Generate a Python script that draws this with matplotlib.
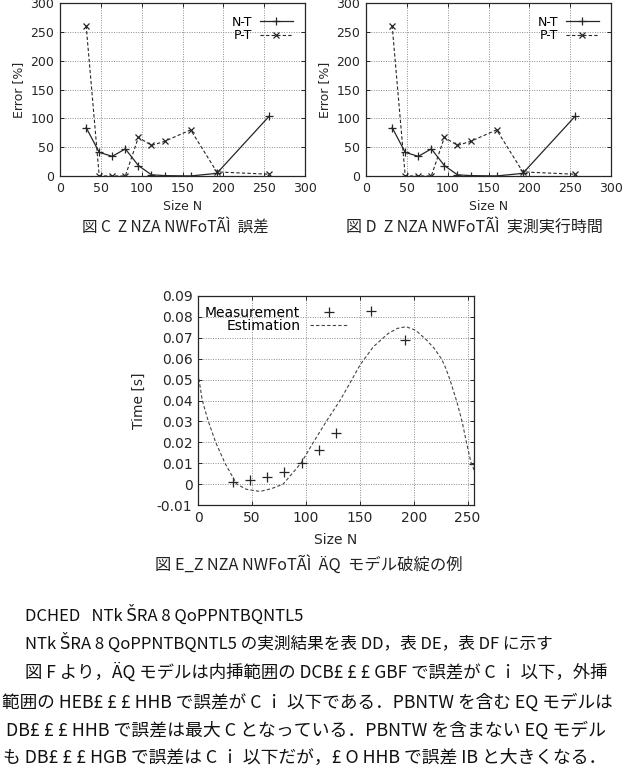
import matplotlib
matplotlib.use("Agg")
import matplotlib.pyplot as plt

plt.rcParams['font.family'] = ['DejaVu Sans', 'Noto Sans CJK JP']

# Error plots (fig C and D show the same curves)
size_n = [32, 48, 64, 80, 96, 112, 128, 160, 192, 256]
err_nt = [84, 41, 34, 47, 18, 2, 0.6, 0, 4.5, 103.5]
err_pt = [261, 0, 0, 0, 67, 53, 60, 80, 7, 3]

# Time plot (fig E)
meas_n = [32, 48, 64, 80, 96, 112, 128, 160, 192, 256]
meas_t = [0.001, 0.002, 0.0032, 0.0056, 0.0102, 0.0164, 0.0244, 0.0827, 0.069, 0.0098]
# estimation curve
est_n = [0, 4, 9.6, 16.4, 25, 35.9, 45, 57.5, 68, 79, 95.5, 107, 119, 131.7, 140,
         150.3, 162.6, 176.5, 185, 193, 202, 212, 219, 226, 230, 233.8, 240, 245, 249,
         253, 256]
est_t = [0.053, 0.04, 0.03, 0.02, 0.01, 0.0, -0.0025, -0.0035, -0.0022, 0.0, 0.01,
         0.02, 0.03, 0.04, 0.0475, 0.057, 0.0657, 0.0721, 0.0745, 0.0753, 0.0736,
         0.0689, 0.0650, 0.0598, 0.0552, 0.0498, 0.0395, 0.0299, 0.0199, 0.0108, 0.0068]

captions = ["図 C  Z\u2009NZA NWFoTÃÌ  誤差",
            "図 D  Z\u2009NZA NWFoTÃÌ  実測実行時間",
            "図 E_Z\u2009NZA NWFoTÃÌ  ÄQ  モデル破綻の例"]

body = ["DCHED   NTk ŠRA 8 QoPPNTBQNTL5",
        "NTk ŠRA 8 QoPPNTBQNTL5 の実測結果を表 DD，表 DE，表 DF に示す",
        "図 F より，ÄQ モデルは内挿範囲の DCB£ £ £ GBF で誤差が C ｉ 以下，外挿",
        "範囲の HEB£ £ £ HHB で誤差が C ｉ 以下である．PBNTW を含む EQ モデルは",
        "DB£ £ £ HHB で誤差は最大 C となっている．PBNTW を含まない EQ モデル",
        "も DB£ £ £ HGB で誤差は C ｉ 以下だが，£ O HHB で誤差 IB と大きくなる．"]

ink = '#262626'
grid_kw = dict(color='#8c8c8c', linestyle=(0, (1, 1.5)), linewidth=0.7)

fig = plt.figure(figsize=(6.25, 7.82), dpi=100)


def gnuplot_axes(ax):
    ax.grid(True, **grid_kw)
    ax.tick_params(direction='in', top=True, right=True, length=3, width=0.7,
                   labelsize=9, colors=ink, pad=4)
    for s in ax.spines.values():
        s.set_linewidth(0.9)
        s.set_color(ink)


for left in (0.096, 0.5856):
    ax = fig.add_axes([left, 0.775, 0.392, 0.221])
    ax.plot(size_n, err_nt, '-', marker='+', color=ink, lw=0.9, ms=6, mew=0.9, label='N-T')
    ax.plot(size_n, err_pt, '--', marker='x', color=ink, lw=0.8, ms=4, mew=0.9,
            dashes=(3, 2), label='P-T')
    ax.set_xlim(0, 300)
    ax.set_ylim(0, 300)
    ax.set_xticks(range(0, 301, 50))
    ax.set_yticks(range(0, 301, 50))
    gnuplot_axes(ax)
    ax.set_xlabel('Size N', fontsize=9, color=ink, labelpad=4)
    ax.set_ylabel('Error [%]', fontsize=9, color=ink, labelpad=4)
    ax.legend(loc='upper right', markerfirst=False, frameon=False, fontsize=9,
              handlelength=2.6, handletextpad=0.6, labelspacing=0.05,
              borderpad=0.1, borderaxespad=0.9)

ax3 = fig.add_axes([0.3168, 0.3542, 0.4416, 0.2673])
ax3.plot(meas_n, meas_t, linestyle='none', marker='+', color=ink, ms=7, mew=0.9,
         label='Measurement')
ax3.plot(est_n, est_t, '--', color='#444444', lw=0.8, dashes=(3, 2), label='Estimation')
ax3.set_xlim(0, 256)
ax3.set_ylim(-0.01, 0.09)
ax3.set_xticks(range(0, 251, 50))
ax3.set_yticks([-0.01, 0, 0.01, 0.02, 0.03, 0.04, 0.05, 0.06, 0.07, 0.08, 0.09])
ax3.set_yticklabels(['-0.01', '0', '0.01', '0.02', '0.03', '0.04', '0.05', '0.06',
                     '0.07', '0.08', '0.09'])
gnuplot_axes(ax3)
ax3.tick_params(labelsize=10)
ax3.set_xlabel('Size N', fontsize=10, color=ink, labelpad=6)
ax3.set_ylabel('Time [s]', fontsize=10, color=ink, labelpad=8)
ax3.legend(loc='upper right', bbox_to_anchor=(0.577, 1.0), markerfirst=False,
           frameon=False, fontsize=10, handlelength=2.7, handletextpad=0.7,
           labelspacing=-0.05, borderpad=0.2)

cap_font = ['Noto Sans CJK JP', 'DejaVu Sans']
renderer = fig.canvas.get_renderer()


def fitted_text(x0, x1, y, txt, size, color, lo=0.8):
    # put text so that it spans pixel x0..x1 (scan text is justified)
    t = fig.text(x0 / 625, 1 - y / 782, txt, ha='left', va='center', fontsize=size,
                 family=cap_font, color=color)
    if x1 is not None:
        w = t.get_window_extent(renderer).width
        t.set_fontsize(min(max(size * (x1 - x0) / w, size * lo), size * 1.25))
    return t


fitted_text(82, 268, 228, captions[0], 12, '#222222')
fitted_text(346, 602, 228, captions[1], 12, '#222222')
fitted_text(155, 462, 565, captions[2], 12, '#222222')

line_x = [(25, None), (25, None), (25, 608), (2, 612), (6, 605), (3, 607)]
line_y = [615, 643, 672, 702, 730, 758]
for txt, (x0, x1), y in zip(body, line_x, line_y):
    fitted_text(x0, x1, y, txt, 12, '#111111', lo=0.9)

fig.savefig('out.png', dpi=100, facecolor='w')
